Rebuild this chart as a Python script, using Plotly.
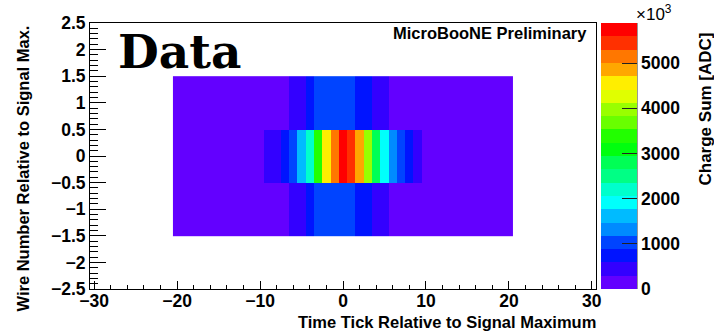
import colorsys
import plotly.graph_objects as go

# ---- data: charge sum (units of 10^3 ADC) per (wire offset, time tick offset) ----
time_ticks = list(range(-20, 21))
wire_offsets = [-1, 0, 1]

charge_wire_m1 = [18, 20, 22, 25, 27, 30, 34, 40, 48, 60, 78, 105, 150, 230,
                  330, 480, 760, 960, 1050, 1090, 1100, 1010, 800, 620, 450, 320,
                  240, 170, 120, 85, 62, 48, 40, 34, 30, 27, 25, 23, 21, 20, 18]
charge_wire_0 = [60, 65, 70, 78, 85, 95, 110, 130, 160, 200, 260,
                 380, 540, 720, 1000, 1600, 2250, 3350, 4550, 5150, 5890,
                 5450, 4800, 3950, 2780, 1950, 1350, 1020, 730, 430,
                 280, 210, 165, 130, 110, 95, 85, 76, 70, 64, 58]
charge_wire_p1 = [17, 19, 21, 24, 26, 29, 33, 38, 46, 58, 75, 100, 145, 220,
                  340, 500, 740, 940, 1040, 1080, 1090, 1000, 790, 610, 440, 330,
                  235, 165, 118, 83, 60, 47, 39, 33, 29, 26, 24, 22, 20, 19, 17]

z_ticks = [0, 1000, 2000, 3000, 4000, 5000]
x_range = [-30.5, 30.5]
y_range = [-2.5, 2.5]

charge = [charge_wire_m1, charge_wire_0, charge_wire_p1]
z_max = max(max(r) for r in charge)

# ---- "pretty" violet->red palette, 50 hues, sampled into 20 contour bands ----
n_pal, n_cont = 50, 20
def band_color(j):
    idx = int((j + 0.99) * n_pal / n_cont)
    hue = 280.0 - (idx + 1) * (280.0 / n_pal)
    r, g, b = colorsys.hls_to_rgb((hue % 360) / 360.0, 0.5, 1.0)
    return f"rgb({round(r*255)},{round(g*255)},{round(b*255)})"

colorscale = []
for j in range(n_cont):
    c = band_color(j)
    colorscale.append([j / n_cont, c])
    colorscale.append([(j + 1) / n_cont, c])

# ---- layout geometry (pixels) ----
W, H = 714, 333
L, R, T, B = 90, 596, 23, 289
pw, ph = R - L, B - T
def px(xp):
    return (xp - L) / pw
def py(yp):
    return (B - yp) / ph

bold = dict(family="Liberation Sans", size=16.5, color="black", weight="bold")
tickfont = dict(family="Liberation Sans", size=17.5, color="black", weight="bold")

fig = go.Figure(go.Heatmap(
    x=time_ticks, y=wire_offsets, z=charge,
    zmin=0, zmax=z_max, colorscale=colorscale, zsmooth=False,
    colorbar=dict(
        x=px(601), xanchor="left", xpad=0, y=0.5, yanchor="middle", ypad=0,
        len=1, lenmode="fraction", thickness=36, thicknessmode="pixels",
        outlinewidth=0, tickvals=z_ticks, ticktext=[str(v) for v in z_ticks],
        ticks="inside", ticklen=15, tickcolor="#222", tickwidth=1,
        tickfont=tickfont,
    ),
))

fig.update_layout(
    width=W, height=H,
    margin=dict(l=L, r=W - R, t=T, b=H - B, pad=0),
    paper_bgcolor="white", plot_bgcolor="white",
    showlegend=False,
    xaxis=dict(
        range=x_range, dtick=10, tick0=0, showgrid=False, zeroline=False,
        showline=True, linecolor="black", linewidth=1, mirror=True,
        ticks="inside", ticklen=8, tickcolor="black", tickwidth=1,
        minor=dict(dtick=2, ticks="inside", ticklen=4, tickcolor="black", showgrid=False),
        tickfont=tickfont, ticklabelstandoff=-4,
    ),
    yaxis=dict(
        range=y_range, dtick=0.5, tick0=0, showgrid=False, zeroline=False,
        showline=True, linecolor="black", linewidth=1, mirror=True,
        ticks="inside", ticklen=16, tickcolor="black", tickwidth=1,
        minor=dict(dtick=0.1, ticks="inside", ticklen=8, tickcolor="black", showgrid=False),
        tickfont=tickfont, ticklabelstandoff=0,
    ),
    shapes=[dict(type="line", xref="paper", yref="paper",
                 x0=px(637), x1=px(637), y0=0, y1=1,
                 line=dict(color="#333", width=1))],
    annotations=[
        dict(text="Data", x=px(116), y=py(51), xref="paper", yref="paper",
             xanchor="left", yanchor="middle", showarrow=False,
             font=dict(family="DejaVu Serif", size=47, color="black", weight="bold")),
        dict(text="MicroBooNE Preliminary", x=px(589), y=py(33), xref="paper", yref="paper",
             xanchor="right", yanchor="middle", showarrow=False, font=bold),
        dict(text="Time Tick Relative to Signal Maximum", x=px(598), y=py(322),
             xref="paper", yref="paper", xanchor="right", yanchor="middle",
             showarrow=False, font=bold),
        dict(text="Wire Number Relative to Signal Max.", x=px(22.5), y=py(24),
             xref="paper", yref="paper", xanchor="center", yanchor="top",
             textangle=-90, showarrow=False, font=bold),
        dict(text="Charge Sum [ADC]", x=px(705), y=py(31), xref="paper", yref="paper",
             xanchor="center", yanchor="top", textangle=-90, showarrow=False,
             font=dict(family="Liberation Sans", size=17, color="black", weight="bold")),
        dict(text="×10<sup>3</sup>", x=px(634), y=py(13), xref="paper", yref="paper",
             xanchor="left", yanchor="middle", showarrow=False,
             font=dict(family="Liberation Sans", size=17, color="black")),
    ],
)

fig.write_html("out.html")
